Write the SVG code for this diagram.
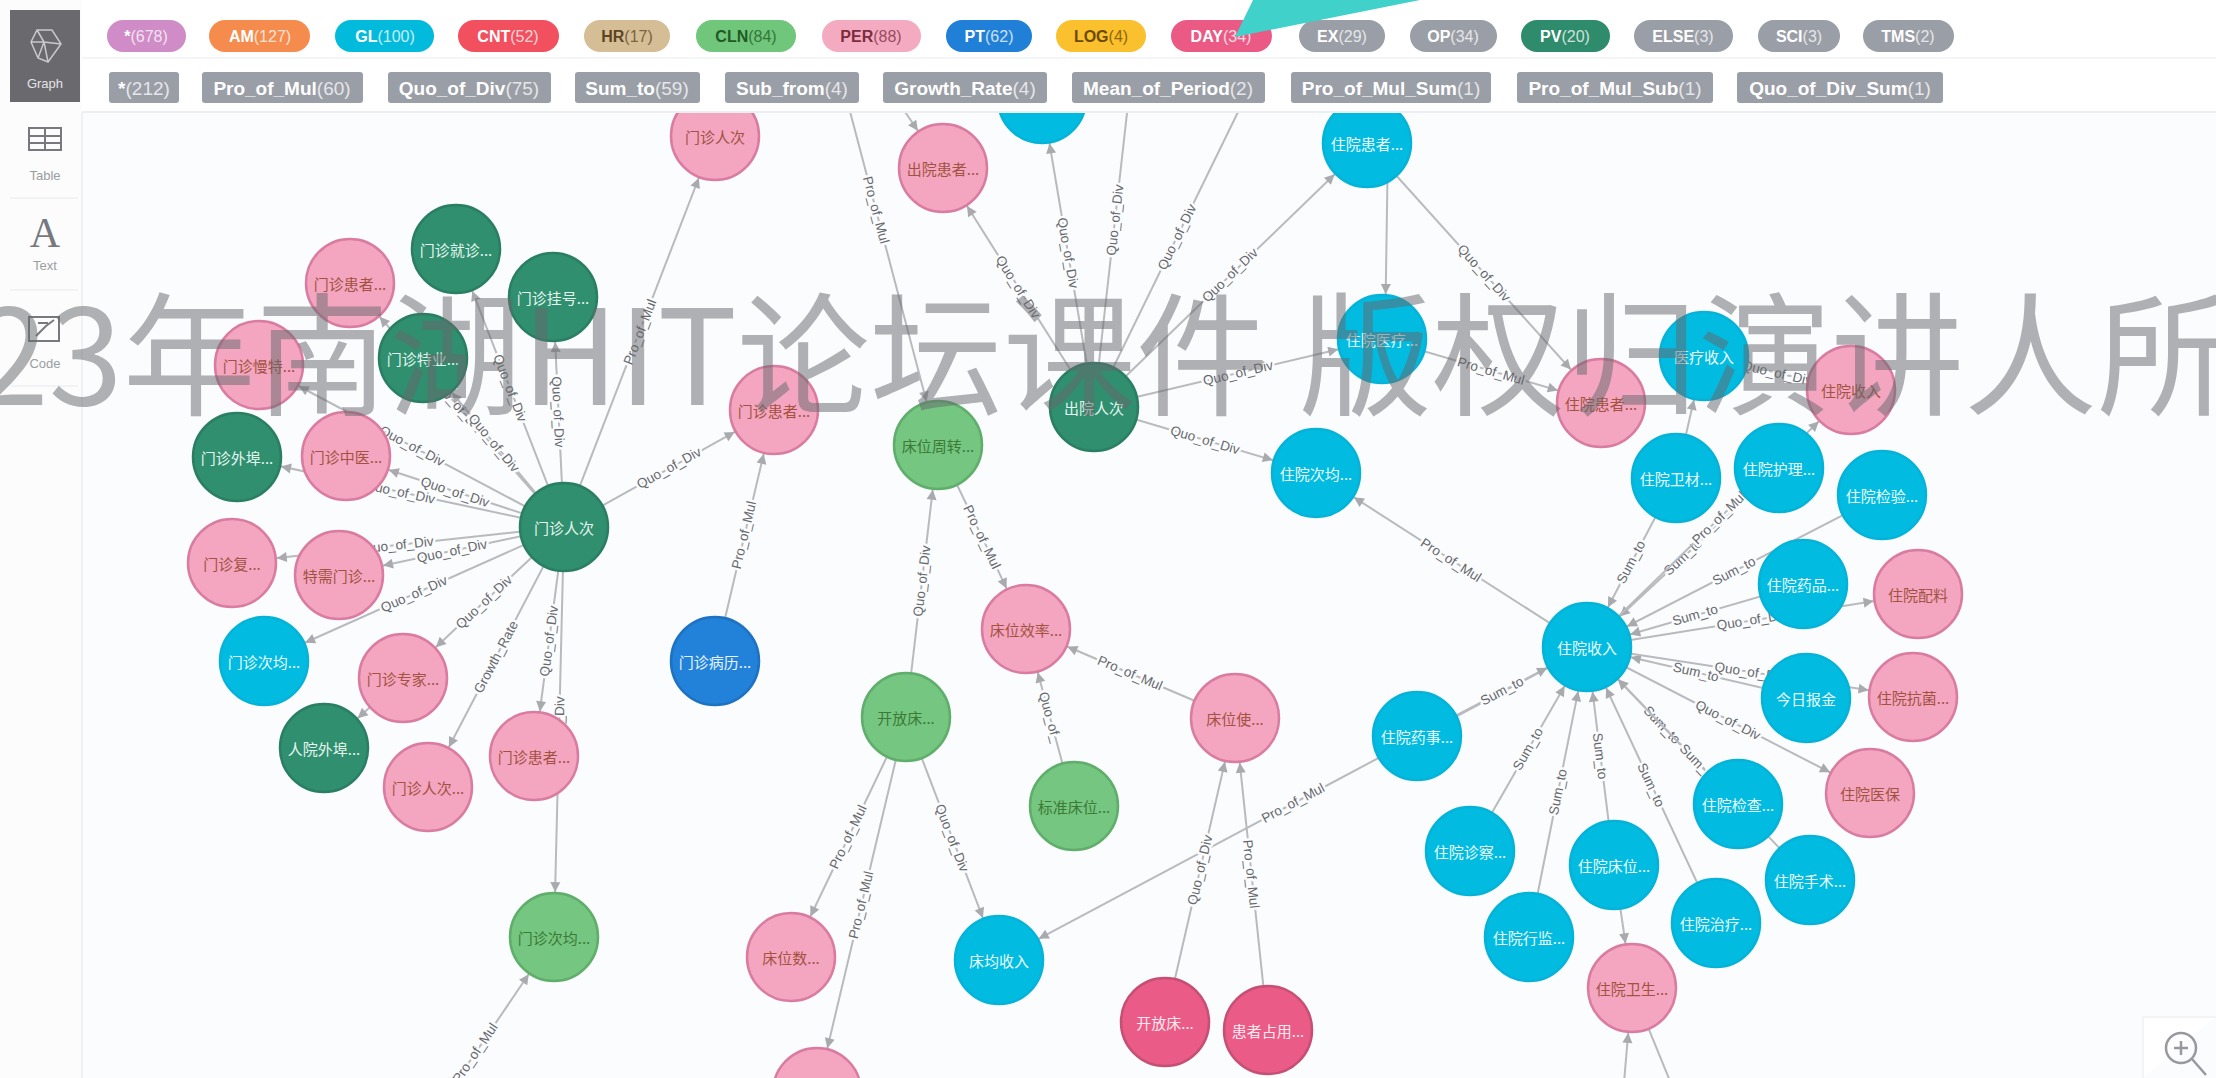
<svg xmlns="http://www.w3.org/2000/svg" width="2216" height="1078" viewBox="0 0 2216 1078">
<style>
text{font-family:"Liberation Sans","Noto Sans CJK SC",sans-serif}
.e{stroke:#b9babd;stroke-width:2;fill:none;marker-end:url(#ah)}
.p{stroke:#b9babd;stroke-width:2;fill:none}
.l{font-size:13.5px;fill:#66686c;text-anchor:middle;dominant-baseline:central;paint-order:stroke;stroke:#fbfcfe;stroke-width:5px;stroke-linejoin:round}
.n text{font-size:15px;text-anchor:middle;dominant-baseline:central;font-family:"Noto Sans CJK SC","Liberation Sans",sans-serif}
.n circle{r:44px;stroke-width:2.5}
.pk circle{fill:#f4a6c1;stroke:#d97c9f}.pk text{fill:#a2523f}
.cy circle{fill:#02bbe1;stroke:#06b3d8}.cy text{fill:#e8fbff}
.dg circle{fill:#2f8f6e;stroke:#2a7f62}.dg text{fill:#e5f5ef}
.lg circle{fill:#74c680;stroke:#5fae6b}.lg text{fill:#3c7a36}
.bl circle{fill:#2282d9;stroke:#1d72c2}.bl text{fill:#e6f2fd}
.dp circle{fill:#ea5c87;stroke:#c64f74}.dp text{fill:#fde8ef}
.pill text{font-size:16px;font-weight:bold;fill:#fff;text-anchor:middle;dominant-baseline:central}
.pill text tspan{font-weight:normal;opacity:.75}
#rel-row text{font-size:19px}
.gy{fill:#9a9ea6}
.side{font-size:13px;fill:#9a9ca1;text-anchor:middle}
</style>
<defs>
<marker id="ah" markerUnits="userSpaceOnUse" refX="55" refY="0" markerWidth="12" markerHeight="12" orient="auto" overflow="visible"><path d="M0,-5L10,0L0,5z" fill="#a9aaae"/></marker>
</defs>
<rect width="2216" height="1078" fill="#fbfcfe"/>
<g id="connectors">
<path class="e" d="M564,527L715,136"/><text class="l" transform="translate(640,332) rotate(-68.9)">Pro_of_Mul</text>
<path class="e" d="M564,527L553,297"/><text class="l" transform="translate(558,412) rotate(87.3)">Quo_of_Div</text>
<path class="e" d="M564,527L456,249"/><text class="l" transform="translate(510,388) rotate(68.8)">Quo_of_Div</text>
<path class="e" d="M564,527L350,283"/><text class="l" transform="translate(457,405) rotate(48.7)">Quo_of_Div</text>
<path class="e" d="M564,527L423,358"/><text class="l" transform="translate(494,443) rotate(50.2)">Quo_of_Div</text>
<path class="e" d="M564,527L259,365"/><text class="l" transform="translate(412,446) rotate(28)">Quo_of_Div</text>
<path class="e" d="M564,527L346,456"/><text class="l" transform="translate(455,492) rotate(18)">Quo_of_Div</text>
<path class="e" d="M564,527L237,457"/><text class="l" transform="translate(400,492) rotate(12.1)">Quo_of_Div</text>
<path class="e" d="M564,527L232,563"/><text class="l" transform="translate(398,545) rotate(-6.2)">Quo_of_Div</text>
<path class="e" d="M564,527L339,575"/><text class="l" transform="translate(452,551) rotate(-12)">Quo_of_Div</text>
<path class="e" d="M564,527L264,661"/><text class="l" transform="translate(414,594) rotate(-24.1)">Quo_of_Div</text>
<path class="e" d="M564,527L403,678"/><text class="l" transform="translate(484,602) rotate(-43.2)">Quo_of_Div</text>
<path class="e" d="M564,527L428,787"/><text class="l" transform="translate(496,657) rotate(-62.4)">Growth_Rate</text>
<path class="e" d="M564,527L534,756"/><text class="l" transform="translate(549,641) rotate(-82.5)">Quo_of_Div</text>
<path class="e" d="M564,527L554,937"/><text class="l" transform="translate(559,732) rotate(-88.6)">Quo_of_Div</text>
<path class="e" d="M564,527L774,410"/><text class="l" transform="translate(669,468) rotate(-29.1)">Quo_of_Div</text>
<path class="e" d="M403,678L324,748"/>
<path class="e" d="M715,661L774,410"/><text class="l" transform="translate(744,535) rotate(-76.8)">Pro_of_Mul</text>
<path class="e" d="M396,1170L554,937"/><text class="l" transform="translate(475,1053) rotate(-55.9)">Pro_of_Mul</text>
<path class="e" d="M1094,407L943,168"/><text class="l" transform="translate(1018,287) rotate(57.7)">Quo_of_Div</text>
<path class="e" d="M1094,407L1042,99"/><text class="l" transform="translate(1068,253) rotate(80.4)">Quo_of_Div</text>
<path class="p" d="M1094,407L1136,33"/><text class="l" transform="translate(1115,220) rotate(-83.6)">Quo_of_Div</text>
<path class="p" d="M1094,407L1260,67"/><text class="l" transform="translate(1177,237) rotate(-64)">Quo_of_Div</text>
<path class="e" d="M1094,407L1367,143"/><text class="l" transform="translate(1230,275) rotate(-44)">Quo_of_Div</text>
<path class="e" d="M1094,407L1382,339"/><text class="l" transform="translate(1238,373) rotate(-13.3)">Quo_of_Div</text>
<path class="e" d="M1094,407L1316,473"/><text class="l" transform="translate(1205,440) rotate(16.6)">Quo_of_Div</text>
<path class="e" d="M1388,143L1385,339"/>
<path class="e" d="M1367,143L1601,403"/><text class="l" transform="translate(1484,273) rotate(48)">Quo_of_Div</text>
<path class="e" d="M1382,339L1601,403"/><text class="l" transform="translate(1491,371) rotate(16.3)">Pro_of_Mul</text>
<path class="e" d="M814,-25L938,445"/><text class="l" transform="translate(876,210) rotate(75.2)">Pro_of_Mul</text>
<path class="e" d="M870,60L943,168"/>
<path class="e" d="M906,717L938,445"/><text class="l" transform="translate(922,581) rotate(-83.3)">Quo_of_Div</text>
<path class="e" d="M938,445L1026,629"/><text class="l" transform="translate(982,537) rotate(64.4)">Pro_of_Mul</text>
<path class="e" d="M1235,718L1026,629"/><text class="l" transform="translate(1130,673) rotate(23)">Pro_of_Mul</text>
<path class="e" d="M1074,806L1026,629"/><text class="l" transform="translate(1050,717) rotate(74.8)">Quo_of_</text>
<path class="e" d="M906,717L791,957"/><text class="l" transform="translate(848,837) rotate(-64.4)">Pro_of_Mul</text>
<path class="e" d="M906,717L817,1092"/><text class="l" transform="translate(861,905) rotate(-76.6)">Pro_of_Mul</text>
<path class="e" d="M906,717L999,960"/><text class="l" transform="translate(952,838) rotate(69)">Quo_of_Div</text>
<path class="e" d="M1587,647L999,960"/><text class="l" transform="translate(1293,803) rotate(-28)">Pro_of_Mul</text>
<path class="e" d="M1165,1022L1235,718"/><text class="l" transform="translate(1200,870) rotate(-77)">Quo_of_Div</text>
<path class="e" d="M1268,1030L1235,718"/><text class="l" transform="translate(1251,874) rotate(84)">Pro_of_Mul</text>
<path class="e" d="M1587,647L1316,473"/><text class="l" transform="translate(1451,560) rotate(32.7)">Pro_of_Mul</text>
<path class="e" d="M1676,478L1587,647"/><text class="l" transform="translate(1631,562) rotate(-62.2)">Sum_to</text>
<path class="e" d="M1676,478L1704,356"/>
<path class="e" d="M1779,468L1587,647"/><text class="l" transform="translate(1683,557) rotate(-43)">Sum_to</text>
<path class="e" d="M1587,647L1851,390"/><text class="l" transform="translate(1719,518) rotate(-44.2)">Pro_of_Mul</text>
<path class="e" d="M1882,495L1587,647"/><text class="l" transform="translate(1734,571) rotate(-27.3)">Sum_to</text>
<path class="e" d="M1803,584L1587,647"/><text class="l" transform="translate(1695,615) rotate(-16.3)">Sum_to</text>
<path class="e" d="M1587,647L1918,594"/><text class="l" transform="translate(1752,620) rotate(-9.1)">Quo_of_Div</text>
<path class="e" d="M1806,698L1587,647"/><text class="l" transform="translate(1696,672) rotate(13.1)">Sum_to</text>
<path class="e" d="M1587,647L1913,697"/><text class="l" transform="translate(1750,672) rotate(8.7)">Quo_of_Div</text>
<path class="e" d="M1587,647L1870,793"/><text class="l" transform="translate(1728,720) rotate(27.3)">Quo_of_Div</text>
<path class="e" d="M1738,804L1587,647"/><text class="l" transform="translate(1662,725) rotate(46.1)">Sum_to</text>
<path class="e" d="M1810,880L1587,647"/><text class="l" transform="translate(1698,763) rotate(46.3)">Sum_to</text>
<path class="e" d="M1716,923L1587,647"/><text class="l" transform="translate(1651,785) rotate(64.9)">Sum_to</text>
<path class="e" d="M1614,865L1587,647"/><text class="l" transform="translate(1600,756) rotate(82.9)">Sum_to</text>
<path class="e" d="M1529,937L1587,647"/><text class="l" transform="translate(1558,792) rotate(-78.7)">Sum_to</text>
<path class="e" d="M1470,851L1587,647"/><text class="l" transform="translate(1528,749) rotate(-60.2)">Sum_to</text>
<path class="e" d="M1417,736L1587,647"/><text class="l" transform="translate(1502,691) rotate(-27.6)">Sum_to</text>
<path class="e" d="M1614,865L1632,988"/>
<path class="e" d="M1620,1130L1632,988"/>
<path class="p" d="M1632,988L1690,1130"/>
<path class="e" d="M1704,356L1851,390"/><text class="l" transform="translate(1777,373) rotate(13)">Quo_of_Div</text>
</g>
<g id="nodes">
<g id="n1" class="n pk"><circle cx="715" cy="136"/><text x="715" y="136">门诊人次</text></g>
<g id="n2" class="n pk"><circle cx="943" cy="168"/><text x="943" y="168">出院患者...</text></g>
<g id="n3" class="n cy"><circle cx="1042" cy="99"/></g>
<g id="n4" class="n cy"><circle cx="1367" cy="143"/><text x="1367" y="143">住院患者...</text></g>
<g id="n5" class="n cy"><circle cx="1382" cy="339"/><text x="1382" y="339">住院医疗...</text></g>
<g id="n6" class="n pk"><circle cx="1601" cy="403"/><text x="1601" y="403">住院患者...</text></g>
<g id="n7" class="n pk"><circle cx="1851" cy="390"/><text x="1851" y="390">住院收入</text></g>
<g id="n8" class="n cy"><circle cx="1704" cy="356"/><text x="1704" y="356">医疗收入</text></g>
<g id="n9" class="n cy"><circle cx="1676" cy="478"/><text x="1676" y="478">住院卫材...</text></g>
<g id="n10" class="n cy"><circle cx="1779" cy="468"/><text x="1779" y="468">住院护理...</text></g>
<g id="n11" class="n cy"><circle cx="1882" cy="495"/><text x="1882" y="495">住院检验...</text></g>
<g id="n12" class="n cy"><circle cx="1803" cy="584"/><text x="1803" y="584">住院药品...</text></g>
<g id="n13" class="n pk"><circle cx="1918" cy="594"/><text x="1918" y="594">住院配料</text></g>
<g id="n14" class="n cy"><circle cx="1806" cy="698"/><text x="1806" y="698">今日报金</text></g>
<g id="n15" class="n pk"><circle cx="1913" cy="697"/><text x="1913" y="697">住院抗菌...</text></g>
<g id="n16" class="n pk"><circle cx="1870" cy="793"/><text x="1870" y="793">住院医保</text></g>
<g id="n17" class="n cy"><circle cx="1587" cy="647"/><text x="1587" y="647">住院收入</text></g>
<g id="n18" class="n cy"><circle cx="1738" cy="804"/><text x="1738" y="804">住院检查...</text></g>
<g id="n19" class="n cy"><circle cx="1810" cy="880"/><text x="1810" y="880">住院手术...</text></g>
<g id="n20" class="n cy"><circle cx="1716" cy="923"/><text x="1716" y="923">住院治疗...</text></g>
<g id="n21" class="n pk"><circle cx="1632" cy="988"/><text x="1632" y="988">住院卫生...</text></g>
<g id="n22" class="n cy"><circle cx="1614" cy="865"/><text x="1614" y="865">住院床位...</text></g>
<g id="n23" class="n cy"><circle cx="1470" cy="851"/><text x="1470" y="851">住院诊察...</text></g>
<g id="n24" class="n cy"><circle cx="1417" cy="736"/><text x="1417" y="736">住院药事...</text></g>
<g id="n25" class="n cy"><circle cx="1529" cy="937"/><text x="1529" y="937">住院行监...</text></g>
<g id="n26" class="n cy"><circle cx="1316" cy="473"/><text x="1316" y="473">住院次均...</text></g>
<g id="n27" class="n dg"><circle cx="1094" cy="407"/><text x="1094" y="407">出院人次</text></g>
<g id="n28" class="n lg"><circle cx="938" cy="445"/><text x="938" y="445">床位周转...</text></g>
<g id="n29" class="n pk"><circle cx="1026" cy="629"/><text x="1026" y="629">床位效率...</text></g>
<g id="n30" class="n pk"><circle cx="1235" cy="718"/><text x="1235" y="718">床位使...</text></g>
<g id="n31" class="n lg"><circle cx="1074" cy="806"/><text x="1074" y="806">标准床位...</text></g>
<g id="n32" class="n lg"><circle cx="906" cy="717"/><text x="906" y="717">开放床...</text></g>
<g id="n33" class="n pk"><circle cx="791" cy="957"/><text x="791" y="957">床位数...</text></g>
<g id="n34" class="n cy"><circle cx="999" cy="960"/><text x="999" y="960">床均收入</text></g>
<g id="n35" class="n dp"><circle cx="1165" cy="1022"/><text x="1165" y="1022">开放床...</text></g>
<g id="n36" class="n dp"><circle cx="1268" cy="1030"/><text x="1268" y="1030">患者占用...</text></g>
<g id="n37" class="n pk"><circle cx="817" cy="1092"/></g>
<g id="n38" class="n pk"><circle cx="774" cy="410"/><text x="774" y="410">门诊患者...</text></g>
<g id="n39" class="n bl"><circle cx="715" cy="661"/><text x="715" y="661">门诊病历...</text></g>
<g id="n40" class="n lg"><circle cx="554" cy="937"/><text x="554" y="937">门诊次均...</text></g>
<g id="n41" class="n pk"><circle cx="534" cy="756"/><text x="534" y="756">门诊患者...</text></g>
<g id="n42" class="n pk"><circle cx="428" cy="787"/><text x="428" y="787">门诊人次...</text></g>
<g id="n43" class="n dg"><circle cx="324" cy="748"/><text x="324" y="748">人院外埠...</text></g>
<g id="n44" class="n pk"><circle cx="403" cy="678"/><text x="403" y="678">门诊专家...</text></g>
<g id="n45" class="n cy"><circle cx="264" cy="661"/><text x="264" y="661">门诊次均...</text></g>
<g id="n46" class="n pk"><circle cx="232" cy="563"/><text x="232" y="563">门诊复...</text></g>
<g id="n47" class="n pk"><circle cx="339" cy="575"/><text x="339" y="575">特需门诊...</text></g>
<g id="n48" class="n pk"><circle cx="346" cy="456"/><text x="346" y="456">门诊中医...</text></g>
<g id="n49" class="n dg"><circle cx="237" cy="457"/><text x="237" y="457">门诊外埠...</text></g>
<g id="n50" class="n dg"><circle cx="564" cy="527"/><text x="564" y="527">门诊人次</text></g>
<g id="n51" class="n pk"><circle cx="259" cy="365"/><text x="259" y="365">门诊慢特...</text></g>
<g id="n52" class="n pk"><circle cx="350" cy="283"/><text x="350" y="283">门诊患者...</text></g>
<g id="n53" class="n dg"><circle cx="456" cy="249"/><text x="456" y="249">门诊就诊...</text></g>
<g id="n54" class="n dg"><circle cx="553" cy="297"/><text x="553" y="297">门诊挂号...</text></g>
<g id="n55" class="n dg"><circle cx="423" cy="358"/><text x="423" y="358">门诊特业...</text></g>
</g>
<g id="header">
<rect x="82" y="0" width="2134" height="112" fill="#fff"/>
<path d="M82,112H2216" stroke="#eceef1" stroke-width="2"/>
<path d="M82,58H2216" stroke="#f4f5f7" stroke-width="2"/>
</g>
<g id="labels-row" class="pill">
<g><rect x="107" y="20" width="79" height="32" rx="16" fill="#cf8cc7"/><text x="146" y="36">*<tspan>(678)</tspan></text></g>
<g><rect x="209" y="20" width="101" height="32" rx="16" fill="#f58c4e"/><text x="260" y="36">AM<tspan>(127)</tspan></text></g>
<g><rect x="335" y="20" width="99" height="32" rx="16" fill="#02bbdc"/><text x="385" y="36">GL<tspan>(100)</tspan></text></g>
<g><rect x="458" y="20" width="101" height="32" rx="16" fill="#f24f5f"/><text x="508" y="36">CNT<tspan>(52)</tspan></text></g>
<g><rect x="584" y="20" width="86" height="32" rx="16" fill="#d5bd96"/><text x="627" y="36" style="fill:#5c4522">HR<tspan>(17)</tspan></text></g>
<g><rect x="696" y="20" width="100" height="32" rx="16" fill="#70c77b"/><text x="746" y="36" style="fill:#1f5a24">CLN<tspan>(84)</tspan></text></g>
<g><rect x="822" y="20" width="99" height="32" rx="16" fill="#f4abc2"/><text x="871" y="36" style="fill:#7a2d3c">PER<tspan>(88)</tspan></text></g>
<g><rect x="946" y="20" width="86" height="32" rx="16" fill="#2080d8"/><text x="989" y="36">PT<tspan>(62)</tspan></text></g>
<g><rect x="1056" y="20" width="90" height="32" rx="16" fill="#fbc02d"/><text x="1101" y="36" style="fill:#6a4a00">LOG<tspan>(4)</tspan></text></g>
<g><rect x="1171" y="20" width="101" height="32" rx="16" fill="#ea5a85"/><text x="1221" y="36">DAY<tspan>(34)</tspan></text></g>
<g><rect x="1299" y="20" width="86" height="32" rx="16" class="gy"/><text x="1342" y="36">EX<tspan>(29)</tspan></text></g>
<g><rect x="1410" y="20" width="87" height="32" rx="16" class="gy"/><text x="1453" y="36">OP<tspan>(34)</tspan></text></g>
<g><rect x="1521" y="20" width="89" height="32" rx="16" fill="#2e8b6c"/><text x="1565" y="36">PV<tspan>(20)</tspan></text></g>
<g><rect x="1634" y="20" width="99" height="32" rx="16" class="gy"/><text x="1683" y="36">ELSE<tspan>(3)</tspan></text></g>
<g><rect x="1758" y="20" width="82" height="32" rx="16" class="gy"/><text x="1799" y="36">SCI<tspan>(3)</tspan></text></g>
<g><rect x="1863" y="20" width="91" height="32" rx="16" class="gy"/><text x="1908" y="36">TMS<tspan>(2)</tspan></text></g>
</g>
<polygon id="accent" points="1253,0 1420,0 1235,37" fill="#3fd1ca"/>
<g id="rel-row" class="pill">
<g><rect x="109" y="72" width="70" height="31" rx="3" class="gy"/><text x="144" y="88">*<tspan>(212)</tspan></text></g>
<g><rect x="202" y="72" width="161" height="31" rx="3" class="gy"/><text x="282" y="88">Pro_of_Mul<tspan>(60)</tspan></text></g>
<g><rect x="388" y="72" width="163" height="31" rx="3" class="gy"/><text x="469" y="88">Quo_of_Div<tspan>(75)</tspan></text></g>
<g><rect x="575" y="72" width="125" height="31" rx="3" class="gy"/><text x="637" y="88">Sum_to<tspan>(59)</tspan></text></g>
<g><rect x="725" y="72" width="134" height="31" rx="3" class="gy"/><text x="792" y="88">Sub_from<tspan>(4)</tspan></text></g>
<g><rect x="883" y="72" width="164" height="31" rx="3" class="gy"/><text x="965" y="88">Growth_Rate<tspan>(4)</tspan></text></g>
<g><rect x="1072" y="72" width="193" height="31" rx="3" class="gy"/><text x="1168" y="88">Mean_of_Period<tspan>(2)</tspan></text></g>
<g><rect x="1291" y="72" width="200" height="31" rx="3" class="gy"/><text x="1391" y="88">Pro_of_Mul_Sum<tspan>(1)</tspan></text></g>
<g><rect x="1517" y="72" width="196" height="31" rx="3" class="gy"/><text x="1615" y="88">Pro_of_Mul_Sub<tspan>(1)</tspan></text></g>
<g><rect x="1737" y="72" width="206" height="31" rx="3" class="gy"/><text x="1840" y="88">Quo_of_Div_Sum<tspan>(1)</tspan></text></g>
</g>
<g id="sidebar">
<rect x="0" y="0" width="82" height="1078" fill="#fcfcfd"/>
<path d="M82,112V1078" stroke="#f0f1f4" stroke-width="2"/>
<path d="M10,198H78M10,290H78M10,386H78" stroke="#f2f3f5" stroke-width="2"/>
<rect x="10" y="10" width="70" height="92" fill="#6a6a6e"/>
<path d="M37,30L52,30L61,44L48,62L38,58L31,42z M37,30L44,42L61,44M44,42L38,58M44,42L48,62M31,42L44,42" fill="none" stroke="#c9c9cc" stroke-width="1.5"/>
<text x="45" y="88" class="side" style="fill:#e4e4e6">Graph</text>
<g fill="none" stroke="#77797e" stroke-width="2"><rect x="29" y="128" width="32" height="22"/><path d="M29,136H61M29,143H61M45,128V150"/></g>
<text x="45" y="180" class="side">Table</text>
<text x="45" y="247" text-anchor="middle" style="font-family:'Liberation Serif',serif;font-size:42px;fill:#77797e">A</text>
<text x="45" y="270" class="side">Text</text>
<g fill="none" stroke="#77797e" stroke-width="2"><rect x="29" y="317" width="30" height="24"/><path d="M36,336L46,326L54,320M38,323H48"/></g>
<text x="45" y="368" class="side">Code</text>
</g>
<g id="zoom-control">
<path d="M2143,1078V1017H2216" fill="#fff" stroke="#f3f4f6" stroke-width="2"/>
<circle cx="2181" cy="1048" r="15" fill="none" stroke="#98999e" stroke-width="2.5"/>
<path d="M2174,1048H2188M2181,1041V1055M2192,1059L2206,1075" fill="none" stroke="#98999e" stroke-width="2.5"/>
</g>
<text id="watermark" x="-25" y="405" style="font-family:'Noto Sans CJK SC','Liberation Sans',sans-serif;font-size:133px" fill="#68696d" fill-opacity=".52">23年南湖HIT论坛课件 版权归演讲人所</text>
</svg>
